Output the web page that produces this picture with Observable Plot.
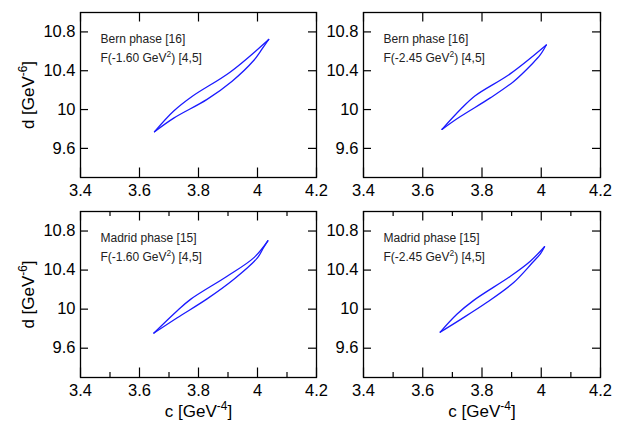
<!DOCTYPE html>
<html><head><meta charset="utf-8">
<script src="https://cdn.jsdelivr.net/npm/d3@7"></script>
<script src="https://cdn.jsdelivr.net/npm/@observablehq/plot@0.6"></script>
<style>
body{margin:0;background:#fff;}
#chart{position:relative;width:623px;height:426px;overflow:hidden;font-family:"Liberation Sans",Arial,Helvetica,sans-serif;}
#chart svg{position:absolute;overflow:visible;background:transparent;}
</style></head><body><div id="chart"></div>
<script>
// ---- data ----
const xTicks = [3.4, 3.6, 3.8, 4, 4.2];
const xMinorTicks = [3.5, 3.7, 3.9, 4.1];
const yTicks = [9.6, 10, 10.4, 10.8];
const xDomain = [3.4, 4.2];
const yDomain = [9.3, 11.0];
const phaseLabels = ["Bern phase [16]", "Bern phase [16]", "Madrid phase [15]", "Madrid phase [15]"];
const formFactorLabels = ["F(-1.60 GeV^{2}) [4,5]", "F(-2.45 GeV^{2}) [4,5]", "F(-1.60 GeV^{2}) [4,5]", "F(-2.45 GeV^{2}) [4,5]"];
const xAxisLabel = "c [GeV^{-4}]";
const yAxisLabel = "d [GeV^{-6}]";

// contour boundaries, [c, d]
const bern160Upper = [[3.651, 9.772], [3.716, 9.985], [3.778, 10.135], [3.908, 10.388], [4.038, 10.722]];
const bern160Lower = [[3.651, 9.772], [3.716, 9.912], [3.829, 10.105], [3.914, 10.292], [3.987, 10.505], [4.010, 10.600], [4.038, 10.722]];
const bern245Upper = [[3.665, 9.796], [3.727, 10.000], [3.777, 10.142], [3.896, 10.370], [4.017, 10.665]];
const bern245Lower = [[3.665, 9.796], [3.727, 9.928], [3.828, 10.120], [3.907, 10.290], [3.969, 10.470], [3.997, 10.565], [4.017, 10.665]];
const madrid160Upper = [[3.649, 9.755], [3.728, 9.983], [3.773, 10.100], [3.897, 10.337], [3.987, 10.525], [4.035, 10.700]];
const madrid160Lower = [[3.649, 9.755], [3.728, 9.912], [3.829, 10.105], [3.920, 10.306], [3.999, 10.522], [4.021, 10.633], [4.035, 10.700]];
const madrid245Upper = [[3.659, 9.765], [3.716, 9.950], [3.772, 10.090], [3.896, 10.337], [3.963, 10.491], [4.011, 10.639]];
const madrid245Lower = [[3.659, 9.765], [3.727, 9.893], [3.817, 10.070], [3.907, 10.273], [3.969, 10.472], [3.997, 10.566], [4.011, 10.639]];

const contours = [
  [bern160Upper, bern160Lower],
  [bern245Upper, bern245Lower],
  [madrid160Upper, madrid160Lower],
  [madrid245Upper, madrid245Lower]
];

// ---- layout ----
const panels = [
  {left: 0,   top: 0,   width: 320, height: 200, ml: 80, mr: 4,  mt: 12, mb: 23, minor: false, xLab: false, yLab: true},
  {left: 310, top: 0,   width: 313, height: 200, ml: 53, mr: 23, mt: 12, mb: 23, minor: false, xLab: false, yLab: false},
  {left: 0,   top: 199, width: 320, height: 227, ml: 80, mr: 4,  mt: 12, mb: 49, minor: true,  xLab: true,  yLab: true},
  {left: 310, top: 199, width: 313, height: 227, ml: 53, mr: 23, mt: 12, mb: 49, minor: true,  xLab: true,  yLab: false}
];

function supify(svg) {
  d3.select(svg).selectAll("text").each(function () {
    const t = this.textContent;
    if (!t.includes("^{")) return;
    const parts = t.split(/\^\{([^}]*)\}/);
    const sel = d3.select(this);
    sel.selectAll("*").remove();
    sel.text(null);
    let pendingDown = false;
    parts.forEach((p, i) => {
      if (i % 2 === 1) {
        sel.append("tspan").attr("font-size", "70%").attr("dy", "-0.55em").text(p);
        pendingDown = true;
      } else if (p.length) {
        const ts = sel.append("tspan").text(p);
        if (pendingDown) { ts.attr("dy", "0.385em"); pendingDown = false; }
      }
    });
  });
}

const root = document.getElementById("chart");
const blue = "#1a1aff";
const majorLen = 9.5, minorLen = 5, yTickLen = 8;

panels.forEach((p, i) => {
  const innerW = p.width - p.ml - p.mr;
  const innerH = p.height - p.mt - p.mb;
  const [upper, lower] = contours[i];
  const lineData = [
    ...upper.map(([c, d]) => ({c, d, side: "upper"})),
    ...lower.map(([c, d]) => ({c, d, side: "lower"}))
  ];
  const marks = [
    Plot.frame({stroke: "black", strokeWidth: 1.3}),
    Plot.ruleX(xTicks, {x: d => d, stroke: "black", strokeWidth: 1.2, insetTop: innerH - majorLen}),
    Plot.ruleX(xTicks, {x: d => d, stroke: "black", strokeWidth: 1.2, insetBottom: innerH - majorLen}),
    Plot.ruleY(yTicks, {y: d => d, stroke: "black", strokeWidth: 1.2, insetRight: innerW - yTickLen}),
    Plot.ruleY(yTicks, {y: d => d, stroke: "black", strokeWidth: 1.2, insetLeft: innerW - yTickLen}),
    Plot.axisX(xTicks, {tickSize: 0, tickPadding: 7, fontSize: 16.5, label: null, fill: "black", tickFormat: d => String(d)}),
    Plot.axisY(yTicks, {tickSize: 0, tickPadding: 5, fontSize: 16.5, label: null, fill: "black", tickFormat: d => String(d)}),
    Plot.line(lineData, {x: "c", y: "d", z: "side", stroke: blue, strokeWidth: 1.3, curve: "catmull-rom"}),
    Plot.text([phaseLabels[i]], {text: d => d, frameAnchor: "top-left", dx: 20, dy: 30.7, lineAnchor: "bottom", textAnchor: "start", fontSize: 12, fill: "#222"}),
    Plot.text([formFactorLabels[i]], {text: d => d, frameAnchor: "top-left", dx: 20, dy: 49, lineAnchor: "bottom", textAnchor: "start", fontSize: 12, fill: "#222"})
  ];
  if (p.minor) {
    marks.push(Plot.ruleX(xMinorTicks, {x: d => d, stroke: "black", strokeWidth: 1.2, insetTop: innerH - minorLen}));
    marks.push(Plot.ruleX(xMinorTicks, {x: d => d, stroke: "black", strokeWidth: 1.2, insetBottom: innerH - minorLen}));
  }
  if (p.yLab) {
    marks.push(Plot.text([yAxisLabel], {text: d => d, frameAnchor: "left", rotate: -90, dx: -47, lineAnchor: "bottom", textAnchor: "middle", fontSize: 17, fill: "black"}));
  }
  if (p.xLab) {
    marks.push(Plot.text([xAxisLabel], {text: d => d, frameAnchor: "bottom", dy: 39, lineAnchor: "bottom", textAnchor: "middle", fontSize: 17, fill: "black"}));
  }
  const svg = Plot.plot({
    width: p.width, height: p.height,
    marginLeft: p.ml, marginRight: p.mr, marginTop: p.mt, marginBottom: p.mb,
    x: {domain: xDomain},
    y: {domain: yDomain},
    style: {fontFamily: "'Liberation Sans', Arial, Helvetica, sans-serif", background: "transparent", overflow: "visible", color: "black"},
    marks
  });
  svg.style.left = p.left + "px";
  svg.style.top = p.top + "px";
  svg.style.position = "absolute";
  svg.style.maxWidth = "none";
  supify(svg);
  root.appendChild(svg);
});
</script></body></html>
